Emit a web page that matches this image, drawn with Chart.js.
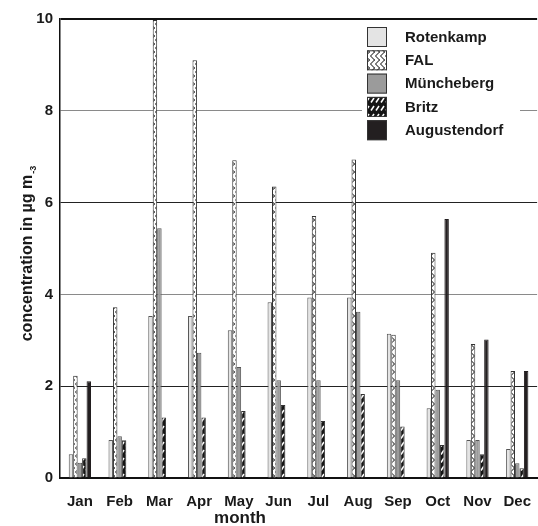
<!DOCTYPE html>
<html>
<head>
<meta charset="utf-8">
<script src="https://cdn.jsdelivr.net/npm/chart.js@4.4.0/dist/chart.umd.min.js"></script>
<style>
  body { margin: 0; background: #fff; }
  canvas { display: block; }
</style>
</head>
<body>
<canvas id="chart" width="538" height="526"></canvas>
<script>
// data (µg m-3)
const months = ['Jan', 'Feb', 'Mar', 'Apr', 'May', 'Jun', 'Jul', 'Aug', 'Sep', 'Oct', 'Nov', 'Dec'];
const rotenkamp = [0.52, 0.83, 3.53, 3.53, 3.22, 3.83, 3.93, 3.93, 3.14, 1.52, 0.83, 0.63];
const fal = [2.23, 3.72, 9.98, 9.1, 6.92, 6.35, 5.71, 6.94, 3.12, 4.91, 2.92, 2.33];
const muencheberg = [0.33, 0.91, 5.44, 2.73, 2.42, 2.13, 2.13, 3.62, 2.13, 1.92, 0.83, 0.32];
const britz = [0.43, 0.82, 1.32, 1.32, 1.46, 1.59, 1.24, 1.83, 1.12, 0.72, 0.52, 0.21];
const augustendorf = [2.11, null, null, null, null, null, null, null, null, 5.64, 3.02, 2.33];
const yMin = 0, yMax = 10, yStep = 2;

const FONT = "'Liberation Sans', Arial, sans-serif";
Chart.defaults.font.family = FONT;

// hatch fills
function makePattern(w, h, draw) {
    const c = document.createElement('canvas');
    c.width = w; c.height = h;
    const g = c.getContext('2d');
    draw(g);
    return g.createPattern(c, 'repeat');
}
const falFill = makePattern(5, 8, g => {
    g.fillStyle = '#fff';
    g.fillRect(0, 0, 5, 8);
    g.strokeStyle = '#000';
    g.lineWidth = 1;
    g.beginPath();
    g.moveTo(0.5, 0); g.lineTo(4.5, 4); g.lineTo(0.5, 8);
    g.moveTo(4.5, 4); g.lineTo(5, 4);
    g.stroke();
});
const britzFill = makePattern(5, 8, g => {
    g.fillStyle = '#151515';
    g.fillRect(0, 0, 5, 8);
    g.strokeStyle = '#fff';
    g.lineWidth = 1.5;
    g.beginPath();
    g.moveTo(1, 6.5); g.lineTo(4, 2);
    g.stroke();
});

// legend drawn inside the plot, white box over the grid
const boxLegend = {
    id: 'boxLegend',
    afterDraw(chart) {
        const ctx = chart.ctx;
        ctx.save();
        ctx.fillStyle = '#fff';
        ctx.fillRect(362, 22, 158, 124);
        chart.data.datasets.forEach((ds, i) => {
            const y = 27 + i * 23.3;
            ctx.fillStyle = ds.backgroundColor;
            ctx.fillRect(367, y, 20, 20);
            ctx.strokeStyle = '#333';
            ctx.lineWidth = 1;
            ctx.strokeRect(367.5, y + 0.5, 19, 19);
            ctx.fillStyle = '#1a1a1a';
            ctx.font = 'bold 15px ' + FONT;
            ctx.textBaseline = 'middle';
            ctx.textAlign = 'left';
            ctx.fillText(ds.label, 405, y + 10.5);
        });
        ctx.restore();
    }
};

// axis titles
const axisTitles = {
    id: 'axisTitles',
    afterDraw(chart) {
        const ctx = chart.ctx;
        ctx.save();
        ctx.fillStyle = '#1a1a1a';
        ctx.font = 'bold 17px ' + FONT;
        ctx.textAlign = 'center';
        ctx.textBaseline = 'alphabetic';
        ctx.fillText('month', 240, 523);

        ctx.translate(32, 258);
        ctx.rotate(-Math.PI / 2);
        ctx.font = 'bold 16px ' + FONT;
        const txt = 'concentration in µg m';
        const w = ctx.measureText(txt).width;
        ctx.fillText(txt, 0, 0);
        ctx.font = 'bold 9px ' + FONT;
        ctx.textAlign = 'left';
        ctx.fillText('-3', w / 2 + 1, 4);
        ctx.restore();
    }
};

const common = { barPercentage: 1, categoryPercentage: 0.56, borderWidth: 1 };

new Chart(document.getElementById('chart'), {
    type: 'bar',
    data: {
        labels: months,
        datasets: [
            { label: 'Rotenkamp', data: rotenkamp, backgroundColor: '#e4e4e4', borderColor: '#555', ...common },
            { label: 'FAL', data: fal, backgroundColor: falFill, borderColor: '#333', ...common },
            { label: 'Müncheberg', data: muencheberg, backgroundColor: '#9b9b9b', borderColor: '#555', ...common },
            { label: 'Britz', data: britz, backgroundColor: britzFill, borderColor: '#333', ...common },
            { label: 'Augustendorf', data: augustendorf, backgroundColor: '#231f20', borderColor: '#231f20', ...common }
        ]
    },
    options: {
        responsive: false,
        animation: false,
        devicePixelRatio: 1,
        layout: { padding: { top: 19, left: 0, right: 0, bottom: 0 } },
        plugins: { legend: { display: false }, tooltip: { enabled: false } },
        scales: {
            x: {
                offset: true,
                grid: { display: false },
                border: { display: true, color: '#111', width: 2 },
                ticks: {
                    color: '#1a1a1a', padding: 7, maxRotation: 0, autoSkip: false,
                    font: { size: 15, weight: 'bold' }
                },
                afterFit: s => { s.height = 48; }
            },
            y: {
                min: yMin,
                max: yMax,
                grid: {
                    drawTicks: false,
                    color: c => c.tick.value === yMax ? '#111' : (c.tick.value % 4 === 0 ? '#8a8a8a' : '#222'),
                    lineWidth: c => c.tick.value === yMax ? 2 : 1
                },
                border: { display: true, color: '#111', width: 1.5 },
                ticks: {
                    stepSize: yStep, color: '#1a1a1a', padding: 7,
                    font: { size: 15, weight: 'bold' }
                },
                afterFit: s => { s.width = 60; }
            }
        }
    },
    plugins: [boxLegend, axisTitles]
});
</script>
</body>
</html>
